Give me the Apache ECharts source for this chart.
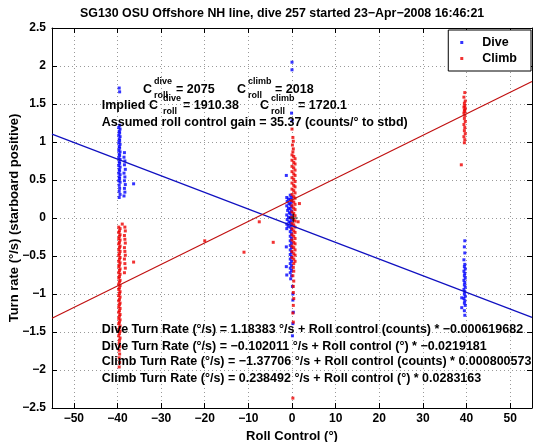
<!DOCTYPE html>
<html><head><meta charset="utf-8">
<script src="https://cdn.jsdelivr.net/npm/echarts@6/dist/echarts.min.js"></script>
<style>html,body{margin:0;padding:0;background:#fff}#c{width:541px;height:442px}</style>
</head><body><div id="c"></div>
<script>
const titleText = 'SG130 OSU Offshore NH line, dive 257 started 23\u2212Apr\u22122008 16:46:21';
const xName = 'Roll Control (\u00b0)';
const yName = 'Turn rate (\u00b0/s) (starboard positive)';
const xTicks = [-50,-40,-30,-20,-10,0,10,20,30,40,50];
const yTicks = [-2.5,-2,-1.5,-1,-0.5,0,0.5,1,1.5,2,2.5];

const diveM40 = [
[-39.6,1.71],[-39.5,1.66],
[-39.5,1.22],[-39.7,1.19],[-39.4,1.17],[-39.6,1.14],[-39.5,1.12],[-39.7,1.09],[-39.4,1.07],[-39.6,1.04],[-39.5,1.02],[-39.7,0.99],
[-39.4,0.97],[-39.6,0.94],[-39.5,0.92],[-39.7,0.89],[-39.4,0.87],[-39.6,0.84],[-39.5,0.82],[-39.7,0.79],[-39.4,0.77],[-39.6,0.74],
[-39.5,0.72],[-39.7,0.69],[-39.4,0.67],[-39.6,0.64],[-39.5,0.62],[-39.7,0.59],[-39.4,0.57],[-39.6,0.54],[-39.5,0.52],[-39.7,0.49],
[-39.4,0.47],[-39.6,0.43],[-39.5,0.39],[-39.6,0.35],[-39.4,0.31],[-39.6,0.27],
[-38.4,0.86],[-38.5,0.80],[-38.3,0.75],[-38.4,0.70],[-38.2,0.64],[-38.5,0.59],[-38.3,0.54],[-38.4,0.49],[-38.2,0.44],[-38.4,0.39],
[-38.3,0.34],[-38.5,0.29],[-36.3,0.45]
];
const dive0 = [
[0.0,2.05],[0.0,1.95],[-0.1,1.38],[0.0,1.28],[-1.3,0.56],
[-1.2,0.27],[-0.8,0.25],[-1.1,0.22],[-0.7,0.19],[-1.2,0.16],[-0.8,0.13],[-1.0,0.10],[-0.6,0.07],[-1.2,0.04],[-0.8,0.01],
[-1.1,-0.02],[-0.7,-0.05],[-1.2,-0.08],[-0.9,-0.11],[-1.2,-0.14],
[-0.4,0.30],[-0.1,0.27],[-0.4,0.24],[-0.1,0.21],[-0.4,0.18],[-0.1,0.15],[-0.4,0.12],[-0.1,0.09],[-0.4,0.06],[-0.1,0.03],
[-0.4,0.00],[-0.1,-0.03],[-0.4,-0.06],[-0.1,-0.09],[-0.4,-0.12],[-0.1,-0.15],[-0.4,-0.18],[-0.1,-0.21],[-0.4,-0.24],[-0.1,-0.27],
[-0.4,-0.30],[-0.1,-0.33],[-0.4,-0.36],[-0.1,-0.39],[-0.4,-0.42],[-0.1,-0.45],[-0.4,-0.48],[-0.1,-0.51],[-0.4,-0.54],[-0.1,-0.57],
[-0.4,-0.60],[-0.1,-0.63],[-0.4,-0.66],[-0.1,-0.69],[-0.4,-0.72],[-0.1,-0.76],[-0.3,-0.80],
[-1.3,-0.38],[-1.3,-0.64],[-1.2,-0.75],[0.1,-0.90],[0.2,-1.00],[0.2,-1.08],[0.3,-1.24],[0.2,-1.39],[0.1,-1.55]
];
const dive40 = [
[39.6,-0.30],[39.5,-0.38],[39.6,-0.46],[39.4,-0.55],[39.6,-0.61],[39.5,-0.64],[39.7,-0.67],[39.4,-0.70],[39.6,-0.73],[39.5,-0.76],
[39.7,-0.79],[39.4,-0.82],[39.6,-0.85],[39.5,-0.88],[39.7,-0.91],[39.4,-0.94],[39.6,-0.97],[39.5,-1.00],[39.7,-1.03],[39.4,-1.06],
[39.6,-1.09],[39.5,-1.12],[39.7,-1.15],[38.9,-1.05],[38.9,-1.18],[39.5,-1.22],[39.6,-1.28]
];
const climbM40 = [
[-39.7,-0.12],[-39.4,-0.14],[-39.55,-0.17],[-39.7,-0.19],[-39.4,-0.22],[-39.55,-0.24],[-39.7,-0.27],[-39.4,-0.29],[-39.55,-0.32],[-39.7,-0.34],
[-39.4,-0.37],[-39.55,-0.39],[-39.7,-0.42],[-39.4,-0.44],[-39.55,-0.47],[-39.7,-0.49],[-39.4,-0.52],[-39.55,-0.54],[-39.7,-0.57],[-39.4,-0.59],
[-39.55,-0.62],[-39.7,-0.64],[-39.4,-0.67],[-39.55,-0.69],[-39.7,-0.72],[-39.4,-0.74],[-39.55,-0.77],[-39.7,-0.79],[-39.4,-0.82],[-39.55,-0.84],
[-39.7,-0.87],[-39.4,-0.89],[-39.55,-0.92],[-39.7,-0.94],[-39.4,-0.97],[-39.55,-0.99],[-39.7,-1.02],[-39.4,-1.04],[-39.55,-1.07],[-39.7,-1.09],
[-39.4,-1.12],[-39.55,-1.14],[-39.7,-1.17],[-39.4,-1.19],[-39.55,-1.22],[-39.7,-1.24],[-39.4,-1.27],[-39.55,-1.29],[-39.7,-1.32],[-39.4,-1.34],
[-39.55,-1.37],[-39.7,-1.39],[-39.4,-1.42],[-39.55,-1.44],[-39.7,-1.47],[-39.4,-1.49],[-39.55,-1.52],[-39.7,-1.55],[-39.4,-1.58],[-39.55,-1.61],
[-39.6,-1.65],[-39.5,-1.69],[-39.6,-1.74],[-39.5,-1.79],[-39.6,-1.84],[-39.5,-1.90],[-39.6,-1.96],
[-38.3,-0.12],[-38.2,-0.17],[-38.4,-0.23],[-38.3,-0.28],[-38.2,-0.33],[-38.4,-0.39],[-38.3,-0.44],[-38.2,-0.49],[-38.4,-0.54],[-38.3,-0.60],
[-38.2,-0.66],[-38.4,-0.72],[-36.3,-0.58],[-38.9,-0.08]
];
const climb0 = [
[0.0,1.17],[0.2,1.06],[0.3,1.01],[0.1,0.96],[0.3,0.91],[0.2,0.87],
[0.0,0.83],[0.4,0.81],[0.7,0.78],[0.0,0.76],[0.4,0.73],[0.7,0.71],[0.0,0.68],[0.4,0.66],[0.7,0.63],[0.0,0.61],
[0.4,0.58],[0.7,0.56],[0.0,0.53],[0.4,0.51],[0.7,0.48],[0.0,0.46],[0.4,0.43],[0.7,0.41],[0.0,0.38],[0.4,0.36],
[0.7,0.33],[0.0,0.31],[0.4,0.28],[0.7,0.26],[0.0,0.23],[0.4,0.21],[0.7,0.18],[0.0,0.16],[0.4,0.13],[0.7,0.11],
[0.0,0.08],[0.4,0.06],[0.7,0.03],[0.0,0.01],[0.4,-0.02],[0.7,-0.04],[0.0,-0.07],[0.4,-0.09],[0.7,-0.12],[0.0,-0.14],
[0.4,-0.17],[0.7,-0.19],[0.0,-0.22],[0.4,-0.24],[0.7,-0.27],[0.0,-0.29],[0.4,-0.32],[0.7,-0.34],[0.0,-0.37],[0.4,-0.39],
[0.7,-0.42],[0.0,-0.44],[0.4,-0.47],[0.7,-0.49],[0.0,-0.52],[0.4,-0.54],[0.7,-0.57],[0.4,-0.60],
[0.3,-0.65],[0.4,-0.70],[0.2,-0.76],[0.4,-0.83],[0.3,-0.90],[0.3,-0.98],[0.4,-1.06],[0.3,-1.15],[0.2,-1.25],[0.3,-1.37],[0.2,-2.37]
];
const climb40 = [
[39.6,1.65],[39.4,1.59],[39.7,1.54],[39.5,1.51],[39.6,1.48],[39.4,1.46],[39.7,1.44],[39.5,1.42],[39.6,1.40],[39.4,1.38],
[39.6,1.35],[39.5,1.31],[39.7,1.27],[39.4,1.23],[39.6,1.19],[39.5,1.15],[39.7,1.11],[39.4,1.07],[39.6,1.03],[39.5,0.99],[38.8,0.70]
];
const climbScatter = [[-20.0,-0.30],[-11.0,-0.45],[-7.5,-0.05],[-4.3,-0.32],[1.7,0.19],[1.4,-0.05]];
const diveFit = [[-55,1.1035],[55,-1.3075]];
const climbFit = [[-55,-1.3189],[55,1.7960]];
const centerMark = [[0.3,0.0]];

const fitLines = [
  'Dive Turn Rate (\u00b0/s) = 1.18383 \u00b0/s + Roll control (counts) * \u22120.000619682',
  'Dive Turn Rate (\u00b0/s) = \u22120.102011 \u00b0/s + Roll control (\u00b0) * \u22120.0219181',
  'Climb Turn Rate (\u00b0/s) = \u22121.37706 \u00b0/s + Roll control (counts) * 0.000800573',
  'Climb Turn Rate (\u00b0/s) = 0.238492 \u00b0/s + Roll control (\u00b0) * 0.0283163'
];

const FF = '"Liberation Sans", Arial, Helvetica, sans-serif';
const fmt = v => String(v).replace('-', '\u2212');
const BLUE = '#0000ff', RED = '#ee0000';

const chart = echarts.init(document.getElementById('c'), null, {renderer:'canvas'});

function txt(x, y, s, size, rot) {
  return {type:'text', x:x, y:y, z:100, rotation:rot||0,
    style:{text:s, font:'bold ' + (size||12.5) + 'px ' + FF, fill:'#000', verticalAlign:'middle', align: rot ? 'center' : 'left'}};
}
const graphics = [
  txt(80, 14, titleText, 12.4),
  txt(14, 218, yName, 13, Math.PI / 2),
  txt(143, 90, 'C'), txt(154, 82, 'dive', 9), txt(154, 96, 'roll', 9), txt(176, 90, '= 2075'),
  txt(237, 90, 'C'), txt(248, 82, 'climb', 9), txt(248, 96, 'roll', 9), txt(275, 90, '= 2018'),
  txt(101.7, 106, 'Implied C'), txt(163, 99, 'dive', 9), txt(163, 112, 'roll', 9), txt(183, 106, '= 1910.38'),
  txt(260, 106, 'C'), txt(271, 99, 'climb', 9), txt(271, 112, 'roll', 9), txt(298, 106, '= 1720.1'),
  txt(101.7, 123, 'Assumed roll control gain = 35.37 (counts/\u00b0 to stbd)'),
  txt(101.7, 330, fitLines[0]), txt(101.7, 346.5, fitLines[1]),
  txt(101.7, 362, fitLines[2]), txt(101.7, 378.5, fitLines[3])
];

const axisLineStyle = {show:true, onZero:false, lineStyle:{color:'#000', width:1}};
const gridLine = {show:true, lineStyle:{color:'#999', type:[1,3], width:1}};

const option = {
  animation:false,
  backgroundColor:'#fff',
  grid:{left:52, right:9, top:28, bottom:34, containLabel:false, outerBoundsMode:'none'},
  legend:{orient:'vertical', right:10, top:30, padding:[6,14,6,12], itemGap:3, itemWidth:3, itemHeight:3,
    icon:'rect', backgroundColor:'#fff', borderColor:'#000', borderWidth:1, borderRadius:0,
    textStyle:{fontFamily:FF, fontWeight:'bold', fontSize:12.5, color:'#000', padding:[0,0,0,14]},
    data:[{name:'Dive', itemStyle:{color:BLUE}},{name:'Climb', itemStyle:{color:RED}}]},
  xAxis:[
    {type:'value', min:-55, max:55, position:'bottom',
      name:xName, nameLocation:'middle', nameGap:18,
      nameTextStyle:{fontFamily:FF, fontWeight:'bold', fontSize:13, color:'#000'},
      axisLine:axisLineStyle,
      axisTick:{show:true, inside:true, length:5, customValues:xTicks, lineStyle:{color:'#000'}},
      axisLabel:{customValues:xTicks, formatter:fmt, margin:5, fontFamily:FF, fontWeight:'bold', fontSize:12, color:'#000'},
      splitLine:gridLine},
    {type:'value', min:-55, max:55, position:'top',
      axisLine:axisLineStyle,
      axisTick:{show:true, inside:true, length:5, customValues:xTicks, lineStyle:{color:'#000'}},
      axisLabel:{show:false}, splitLine:{show:false}}
  ],
  yAxis:[
    {type:'value', min:-2.5, max:2.5, interval:0.5, position:'left',
      axisLine:axisLineStyle,
      axisTick:{show:true, inside:true, length:5, lineStyle:{color:'#000'}},
      axisLabel:{formatter:fmt, margin:6, fontFamily:FF, fontWeight:'bold', fontSize:12, color:'#000'},
      splitLine:gridLine},
    {type:'value', min:-2.5, max:2.5, interval:0.5, position:'right',
      axisLine:axisLineStyle,
      axisTick:{show:true, inside:true, length:5, lineStyle:{color:'#000'}},
      axisLabel:{show:false}, splitLine:{show:false}}
  ],
  series:[
    {name:'Dive', type:'scatter', symbol:'rect', symbolSize:3, itemStyle:{color:BLUE}, z:3,
      data:[].concat(diveM40, dive0, dive40)},
    {name:'Climb', type:'scatter', symbol:'rect', symbolSize:3, itemStyle:{color:RED}, z:4,
      data:[].concat(climbM40, climb0, climb40, climbScatter)},
    {name:'diveFit', type:'line', data:diveFit, symbol:'none', lineStyle:{color:'#1010c0', width:1.2}, z:5},
    {name:'climbFit', type:'line', data:climbFit, symbol:'none', lineStyle:{color:'#c01010', width:1.2}, z:5},
    {name:'center', type:'scatter', data:centerMark, symbol:'path://M0,5L10,5M5,0L5,10', symbolSize:9,
      itemStyle:{color:'none', borderColor:'#000', borderWidth:1.2}, z:6}
  ],
  graphic:graphics
};
chart.setOption(option);
</script>
</body></html>
